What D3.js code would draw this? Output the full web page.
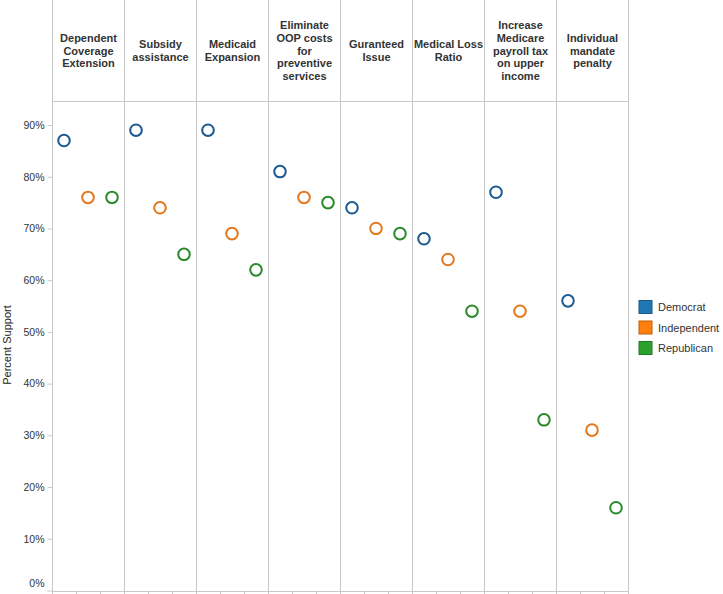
<!DOCTYPE html>
<html>
<head>
<meta charset="utf-8">
<script src="https://cdn.jsdelivr.net/npm/d3@7"></script>
<style>
  html, body { margin: 0; padding: 0; background: #fff; }
  svg { display: block; font-family: Arial, "Liberation Sans", sans-serif; }
</style>
</head>
<body>
<svg id="chart" width="723" height="594"></svg>
<script>
const categories = [
  ["Dependent", "Coverage", "Extension"],
  ["Subsidy", "assistance"],
  ["Medicaid", "Expansion"],
  ["Eliminate", "OOP costs", "for", "preventive", "services"],
  ["Guranteed", "Issue"],
  ["Medical Loss", "Ratio"],
  ["Increase", "Medicare", "payroll tax", "on upper", "income"],
  ["Individual", "mandate", "penalty"]
];
const parties = ["Democrat", "Independent", "Republican"];
const democrat    = [0.87, 0.89, 0.89, 0.81, 0.74, 0.68, 0.77, 0.56];
const independent = [0.76, 0.74, 0.69, 0.76, 0.70, 0.64, 0.54, 0.31];
const republican  = [0.76, 0.65, 0.62, 0.75, 0.69, 0.54, 0.33, 0.16];
const yTicks = [0, 0.1, 0.2, 0.3, 0.4, 0.5, 0.6, 0.7, 0.8, 0.9];
const legendColors = ["#1f77b4", "#ff7f0e", "#2ca02c"];
const markColors = ["#1b5a90", "#e3781c", "#2a8a2a"];

const series = [democrat, independent, republican];
const catKeys = categories.map(c => c.join(" "));

const svg = d3.select("#chart");
const left = 52, right = 628, headerBottom = 101.5, bottom = 591.5;
const gridColor = "#c8c8c8";
const textColor = "#333";

const x = d3.scaleBand().domain(catKeys).range([left, right]);
const xi = d3.scaleBand().domain(parties).range([0, x.bandwidth()]);
const y = d3.scaleLinear().domain([0, 1]).range([590.5, 73.3]);

// vertical column separators
const bounds = catKeys.map(k => x(k)).concat([right]);
svg.append("g").selectAll("line").data(bounds).join("line")
  .attr("x1", d => Math.round(d) + 0.5).attr("x2", d => Math.round(d) + 0.5)
  .attr("y1", 0).attr("y2", bottom)
  .attr("stroke", gridColor).attr("stroke-width", 1);

// header bottom line
svg.append("line")
  .attr("x1", left).attr("x2", right)
  .attr("y1", headerBottom).attr("y2", headerBottom)
  .attr("stroke", gridColor);

// header labels
const lineH = 12.7;
const hdr = svg.append("g").selectAll("text").data(categories).join("text")
  .attr("x", (d, i) => x(catKeys[i]) + x.bandwidth() / 2 + 0.5)
  .attr("text-anchor", "middle")
  .attr("font-size", 11).attr("font-weight", "bold").attr("fill", textColor);
hdr.each(function(d) {
  const t = d3.select(this);
  const startY = 50.5 - (d.length - 1) * lineH / 2 + 4;
  d.forEach((line, j) => {
    t.append("tspan").attr("x", t.attr("x")).attr("y", startY + j * lineH).text(line);
  });
});

// y axis
const yAxis = d3.axisLeft(y).tickValues(yTicks).tickFormat(d3.format(".0%")).tickSize(5).tickPadding(3);
const gy = svg.append("g").attr("transform", `translate(${left + 0.5},0)`).call(yAxis);
gy.select(".domain").remove();
gy.selectAll(".tick line").attr("stroke", gridColor);
gy.selectAll(".tick text").attr("font-size", 10.5).attr("fill", textColor)
  .attr("font-family", "Arial, 'Liberation Sans', sans-serif");
gy.selectAll(".tick").filter(d => d === 0).select("text").attr("y", -7);

// bottom axis line and sub ticks
svg.append("line")
  .attr("x1", left).attr("x2", right).attr("y1", bottom).attr("y2", bottom)
  .attr("stroke", gridColor);
const subTicks = [];
catKeys.forEach(k => parties.forEach(p => subTicks.push(x(k) + xi(p))));
subTicks.push(right);
svg.append("g").selectAll("line").data(subTicks).join("line")
  .attr("x1", d => Math.round(d) + 0.5).attr("x2", d => Math.round(d) + 0.5)
  .attr("y1", bottom).attr("y2", bottom + 5)
  .attr("stroke", gridColor);

// y axis title
svg.append("text")
  .attr("transform", `translate(11,345) rotate(-90)`)
  .attr("text-anchor", "middle")
  .attr("font-size", 11).attr("fill", "#222")
  .text("Percent Support");

// points
const points = [];
series.forEach((s, pi) => s.forEach((v, ci) => points.push({ c: catKeys[ci], p: parties[pi], pi, v })));
svg.append("g").selectAll("circle").data(points).join("circle")
  .attr("cx", d => x(d.c) + xi(d.p) + xi.bandwidth() / 2)
  .attr("cy", d => y(d.v))
  .attr("r", 5.8)
  .attr("fill", "#fff")
  .attr("stroke", d => markColors[d.pi])
  .attr("stroke-width", 2);

// legend
const lg = svg.append("g").selectAll("g").data(parties).join("g")
  .attr("transform", (d, i) => `translate(639,${300.5 + i * 20.5})`);
lg.append("rect").attr("width", 13).attr("height", 13)
  .attr("fill", (d, i) => legendColors[i])
  .attr("stroke", (d, i) => d3.color(legendColors[i]).darker(0.8))
  .attr("stroke-width", 1);
lg.append("text").attr("x", 19).attr("y", 10.5)
  .attr("font-size", 11).attr("fill", textColor).text(d => d);
</script>
</body>
</html>
